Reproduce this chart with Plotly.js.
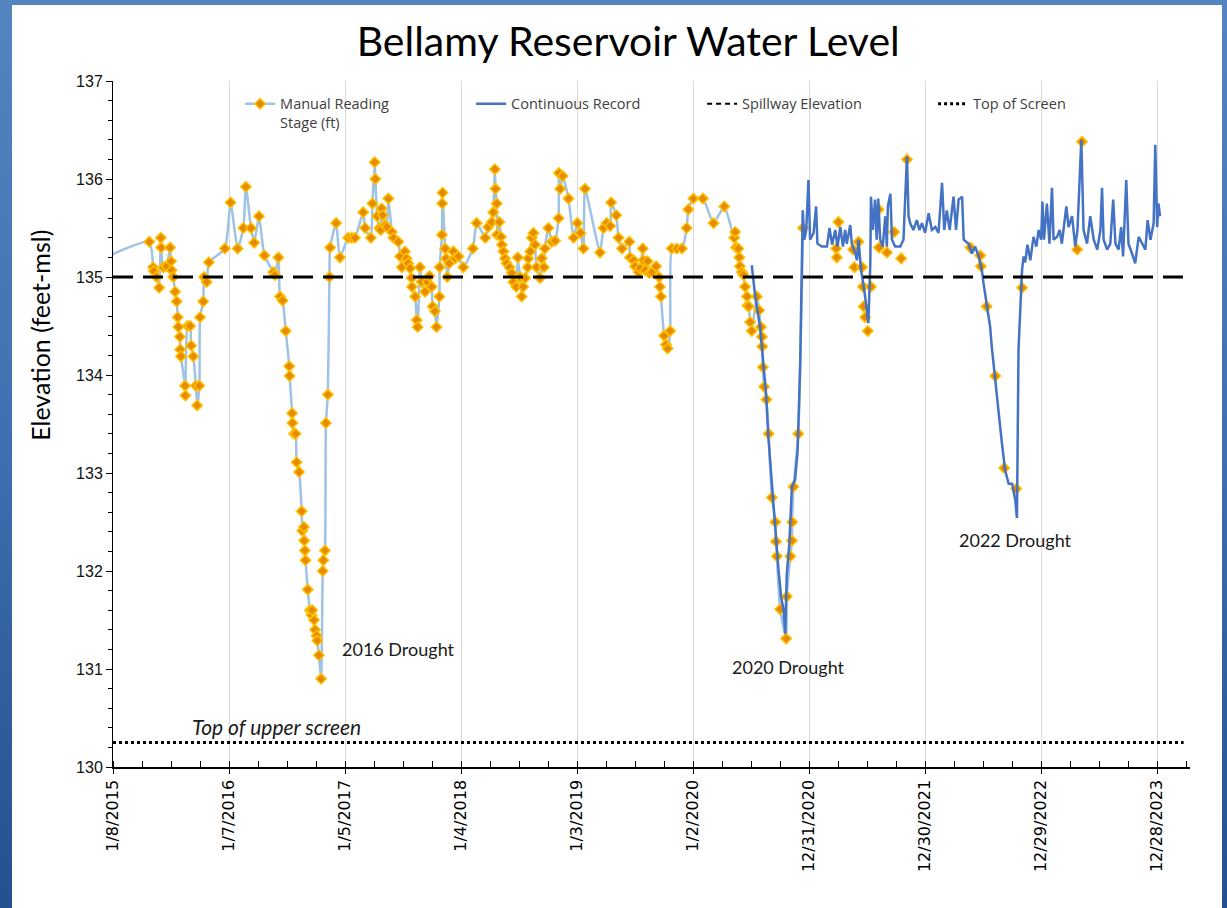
<!DOCTYPE html>
<html>
<head>
<meta charset="utf-8">
<script src="https://cdn.plot.ly/plotly-3.0.1.min.js"></script>
<style>
  html, body { margin:0; padding:0; width:1227px; height:908px; overflow:hidden;
    background: linear-gradient(to bottom, #5585c0 0%, #3f6fae 50%, #24508f 100%); }
  #sheet { position:absolute; left:12px; top:5px; width:1210px; height:903px; background:#fff; }
  #chart { position:absolute; left:0; top:0; width:1227px; height:908px; }
</style>
</head>
<body>
<div id="sheet"></div>
<div id="chart"></div>
<script>
// ---------------- DATA ----------------
const manualDates = [
 "2014-12-01",
 "2015-05-02","2015-05-14","2015-05-16","2015-05-25","2015-06-02","2015-06-07","2015-06-08","2015-06-15","2015-06-25","2015-07-06",
 "2015-07-09","2015-07-11","2015-07-16","2015-07-22","2015-07-27","2015-07-30","2015-08-01","2015-08-06","2015-08-07","2015-08-09",
 "2015-08-22","2015-08-23","2015-08-30","2015-09-07","2015-09-10","2015-09-17","2015-09-25","2015-09-29","2015-10-06","2015-10-08",
 "2015-10-18","2015-10-21","2015-10-29","2015-11-05","2015-12-25",
 "2016-01-12","2016-02-03","2016-02-21","2016-02-29","2016-03-16","2016-03-26","2016-04-10","2016-04-27","2016-05-25","2016-05-30",
 "2016-06-10","2016-06-15","2016-06-23","2016-07-03","2016-07-14","2016-07-15","2016-07-23","2016-07-24","2016-07-29","2016-08-03",
 "2016-08-06","2016-08-14","2016-08-22","2016-08-24","2016-08-29","2016-08-30","2016-09-01","2016-09-03","2016-09-10","2016-09-17",
 "2016-09-22","2016-09-24","2016-09-30","2016-10-03","2016-10-08","2016-10-10","2016-10-15","2016-10-22","2016-10-27","2016-10-29",
 "2016-11-03","2016-11-06","2016-11-12","2016-11-17","2016-11-19","2016-12-08","2016-12-20",
 "2017-01-15","2017-01-26","2017-02-05","2017-03-03","2017-03-09","2017-03-27","2017-04-01","2017-04-08","2017-04-10","2017-04-16",
 "2017-04-23","2017-04-27","2017-04-30","2017-05-03","2017-05-11","2017-05-16","2017-05-21","2017-06-01","2017-06-06","2017-06-21",
 "2017-06-27","2017-07-02","2017-07-12","2017-07-17","2017-07-22","2017-07-28","2017-08-02","2017-08-03","2017-08-13","2017-08-18",
 "2017-08-21","2017-08-28","2017-09-02","2017-09-13","2017-09-20","2017-09-27","2017-10-04","2017-10-07","2017-10-14","2017-10-19",
 "2017-10-28","2017-10-29","2017-11-05","2017-11-06","2017-11-07","2017-11-15","2017-11-18","2017-11-22","2017-11-28","2017-12-11",
 "2017-12-16","2017-12-27",
 "2018-01-11","2018-02-10","2018-02-22","2018-03-21","2018-03-30","2018-04-10","2018-04-15","2018-04-20","2018-04-22","2018-04-26",
 "2018-04-27","2018-05-04","2018-05-09","2018-05-12","2018-05-17","2018-05-22","2018-05-27","2018-06-05","2018-06-12","2018-06-17",
 "2018-06-26","2018-07-01","2018-07-08","2018-07-13","2018-07-18","2018-07-24","2018-08-01","2018-08-03","2018-08-09","2018-08-14",
 "2018-08-19","2018-08-24","2018-08-29","2018-09-09","2018-09-14","2018-09-21","2018-09-24","2018-10-05","2018-10-16","2018-10-26",
 "2018-11-06","2018-11-07","2018-11-11","2018-11-19","2018-12-07","2018-12-23",
 "2019-01-04","2019-01-14","2019-01-23","2019-01-28","2019-03-16","2019-03-27","2019-04-06","2019-04-17","2019-04-20","2019-05-06",
 "2019-05-13","2019-05-24","2019-06-16","2019-06-18","2019-06-29","2019-07-04","2019-07-15","2019-07-20","2019-07-28","2019-07-30",
 "2019-08-05","2019-08-12","2019-08-18","2019-08-26","2019-09-08","2019-09-17","2019-09-20","2019-09-23","2019-10-03","2019-10-09",
 "2019-10-14","2019-10-22","2019-10-27","2019-11-12","2019-11-28","2019-12-13","2019-12-18",
 "2020-01-03","2020-02-02","2020-03-06","2020-04-09","2020-05-10","2020-05-13","2020-05-16","2020-05-23","2020-05-26","2020-05-28",
 "2020-06-03","2020-06-08","2020-06-13","2020-06-19","2020-06-21","2020-06-24","2020-06-29","2020-07-04","2020-07-20","2020-07-27",
 "2020-08-02","2020-08-05","2020-08-06","2020-08-08","2020-08-12","2020-08-19","2020-08-26","2020-09-05","2020-09-16","2020-09-18",
 "2020-09-21","2020-10-01","2020-10-20","2020-10-22","2020-11-02","2020-11-07","2020-11-08","2020-11-12","2020-11-27","2020-12-12",
 "2021-03-26","2021-03-28","2021-04-02","2021-05-18","2021-05-22","2021-06-04","2021-06-15","2021-06-18","2021-06-20","2021-06-25",
 "2021-07-03","2021-07-13","2021-08-06","2021-08-07","2021-09-01","2021-09-24","2021-10-16","2021-11-03",
 "2022-05-21","2022-06-21","2022-06-23","2022-07-11","2022-08-07","2022-09-04","2022-10-12","2022-10-30",
 "2023-04-21","2023-05-06"
];
const manualStage = [
 135.18,
 135.36,135.10,135.06,135.00,134.89,135.40,135.30,135.10,135.11,135.30,
 135.16,135.07,135.00,134.85,134.75,134.59,134.49,134.39,134.26,134.19,
 133.89,133.79,134.50,134.50,134.30,134.19,133.89,133.69,133.89,134.59,
 134.75,135.00,134.95,135.15,135.29,
 135.76,135.29,135.50,135.92,135.50,135.35,135.62,135.22,135.05,135.02,
 135.20,134.80,134.76,134.45,134.09,133.99,133.61,133.51,133.40,133.40,
 133.11,133.01,132.61,132.41,132.45,132.31,132.21,132.11,131.81,131.60,
 131.55,131.60,131.50,131.40,131.34,131.29,131.14,130.90,132.00,132.11,
 132.21,133.51,133.80,135.00,135.30,135.55,135.20,
 135.40,135.40,135.40,135.66,135.50,135.40,135.75,136.17,136.00,135.62,
 135.50,135.48,135.70,135.63,135.53,135.51,135.80,135.46,135.40,135.36,
 135.21,135.10,135.26,135.19,135.14,135.09,134.99,134.90,134.80,134.56,
 134.49,135.10,134.95,134.85,134.95,135.01,134.90,134.70,134.65,134.49,
 134.80,135.10,135.43,135.75,135.86,135.29,135.19,135.00,135.14,135.26,
 135.19,135.21,
 135.10,135.29,135.55,135.40,135.51,135.56,135.66,136.10,135.90,135.75,
 135.43,135.56,135.41,135.33,135.26,135.19,135.14,135.10,135.04,134.95,
 134.90,135.20,135.00,134.80,134.90,134.99,135.10,135.19,135.26,135.40,
 135.45,135.33,135.10,134.99,135.19,135.10,135.29,135.50,135.36,135.37,
 135.60,136.06,135.90,136.03,135.80,135.40,
 135.55,135.45,135.29,135.90,135.25,135.50,135.55,135.52,135.76,135.63,
 135.40,135.29,135.36,135.20,135.17,135.11,135.05,135.09,135.29,135.17,
 135.07,135.16,135.04,135.05,135.11,135.00,134.90,134.80,134.40,134.31,
 134.27,134.45,135.29,135.29,135.29,135.50,135.69,
 135.80,135.80,135.55,135.72,135.40,135.46,135.30,135.29,135.20,135.11,
 135.05,135.02,134.90,134.80,134.71,134.70,134.54,134.45,134.80,134.66,
 134.49,134.39,134.29,134.08,133.88,133.75,133.40,132.75,132.50,132.30,
 132.15,131.61,131.31,131.74,132.15,132.31,132.50,132.86,133.40,135.50,
 135.29,135.20,135.56,135.28,135.10,135.36,135.10,134.90,134.70,134.59,
 134.45,134.90,135.69,135.30,135.25,135.46,135.19,136.20,
 135.30,135.22,135.11,134.70,133.99,133.05,132.84,134.89,
 135.28,136.38
];
// after this date the manual readings are shown as markers only
const manualLineEnd = "2020-12-31";

const continuousDates = [
 "2020-07-04","2020-07-09","2020-07-15","2020-07-30","2020-08-08","2020-08-18","2020-08-25","2020-09-05","2020-09-15","2020-09-26",
 "2020-10-04","2020-10-12","2020-10-17","2020-10-22","2020-10-30","2020-11-07","2020-11-17","2020-11-25","2020-12-03","2020-12-08",
 "2020-12-11","2020-12-16","2020-12-22","2020-12-29",
 "2021-01-03","2021-01-14","2021-01-22","2021-01-26","2021-02-09","2021-02-25","2021-03-05","2021-03-13","2021-03-23","2021-03-30",
 "2021-04-08","2021-04-16","2021-04-23","2021-04-28","2021-05-09","2021-05-14","2021-05-25","2021-05-30","2021-06-04","2021-06-12",
 "2021-06-22","2021-06-30","2021-07-05","2021-07-11","2021-07-13","2021-07-19","2021-07-26","2021-07-31","2021-08-05","2021-08-11",
 "2021-08-19","2021-08-27","2021-09-01","2021-09-04","2021-09-12","2021-09-17","2021-09-27","2021-10-13","2021-10-23","2021-11-03",
 "2021-11-08","2021-11-13","2021-11-23","2021-12-04","2021-12-12","2021-12-20","2021-12-30",
 "2022-01-10","2022-01-20","2022-01-31","2022-02-10","2022-02-21","2022-02-28","2022-03-08","2022-03-17","2022-03-29","2022-04-06",
 "2022-04-14","2022-04-25","2022-04-30","2022-05-15","2022-05-26","2022-06-05","2022-06-16","2022-06-26","2022-07-01","2022-07-09",
 "2022-07-17","2022-07-22","2022-07-27","2022-08-07","2022-08-17","2022-08-28","2022-09-07","2022-09-18","2022-09-29","2022-10-09",
 "2022-10-14","2022-10-19","2022-10-30","2022-11-04","2022-11-09","2022-11-16","2022-11-25","2022-12-05","2022-12-14","2022-12-21",
 "2022-12-29",
 "2023-01-02","2023-01-07","2023-01-16","2023-01-24","2023-02-01","2023-02-06","2023-02-17","2023-02-25","2023-03-04","2023-03-18",
 "2023-03-25","2023-04-05","2023-04-15","2023-04-22","2023-05-04","2023-05-11","2023-05-22","2023-06-01","2023-06-12","2023-06-23",
 "2023-07-03","2023-07-08","2023-07-13","2023-07-24","2023-08-03","2023-08-12","2023-08-19","2023-08-29","2023-09-06","2023-09-12",
 "2023-09-22","2023-09-29","2023-10-10","2023-10-20","2023-10-31","2023-11-11","2023-11-21","2023-11-28","2023-12-07","2023-12-17",
 "2023-12-22","2023-12-28","2024-01-01","2024-01-06"
];
const continuousStage = [
 135.12,134.98,134.80,134.49,134.15,133.81,133.37,132.90,132.42,132.01,
 131.74,131.60,131.36,131.97,132.28,132.86,132.93,133.23,134.12,135.29,
 135.68,135.38,135.48,135.99,
 135.38,135.45,135.72,135.34,135.31,135.31,135.50,135.33,135.48,135.31,
 135.51,135.31,135.48,135.34,135.53,135.34,135.24,135.17,135.38,135.07,
 134.87,134.66,134.53,135.14,135.82,135.48,135.79,135.38,135.80,135.38,
 135.31,135.62,135.31,135.72,135.85,135.38,135.31,135.31,135.38,136.23,
 135.62,135.55,135.48,135.58,135.48,135.55,135.45,
 135.65,135.48,135.51,135.45,135.96,135.48,135.68,135.48,135.82,135.48,
 135.79,135.82,135.38,135.34,135.24,135.31,135.21,135.07,134.94,134.77,
 134.56,134.49,134.29,133.92,133.64,133.30,133.03,132.89,132.89,132.72,
 132.54,134.26,135.07,135.21,135.15,135.33,135.17,135.41,135.31,135.48,
 135.38,
 135.77,135.38,135.75,135.34,135.91,135.38,135.41,135.48,135.34,135.72,
 135.51,135.62,135.31,135.48,136.40,135.48,135.34,135.62,135.38,135.28,
 135.48,135.91,135.38,135.28,135.34,135.79,135.34,135.28,135.51,135.21,
 135.99,135.34,135.24,135.14,135.41,135.34,135.28,135.58,135.38,135.55,
 136.35,135.51,135.75,135.62
];

const spillwayElevation = 135;
const topOfScreenElevation = 130.25;
const referenceLineSpan = ["2015-01-08", "2024-03-20"];

const tickDates  = ["2015-01-08","2016-01-07","2017-01-05","2018-01-04","2019-01-03","2020-01-02","2020-12-31","2021-12-30","2022-12-29","2023-12-28"];
const tickLabels = ["1/8/2015","1/7/2016","1/5/2017","1/4/2018","1/3/2019","1/2/2020","12/31/2020","12/30/2021","12/29/2022","12/28/2023"];
const xRange = ["2015-01-08", "2024-04-09"];
const yRange = [130, 137];

const droughtNotes = [
  {text: "2016 Drought", date: "2016-12-20", level: 131.2},
  {text: "2020 Drought", date: "2020-04-27", level: 131.02},
  {text: "2022 Drought", date: "2022-04-09", level: 132.32}
];
const screenNote = {text: "Top of upper screen", date: "2015-09-05", level: 130.41};

// ---------------- CHART ----------------
const DAY = 86400000;
const manualMarker = {symbol: 'diamond', size: 8, color: '#E68A00', line: {color: '#FFC000', width: 1.5}};
const lineStage = manualStage.map((v, i) => manualDates[i] <= manualLineEnd ? v : null);
const lateDates = manualDates.filter(d => d > manualLineEnd);
const lateStage = manualStage.filter((v, i) => manualDates[i] > manualLineEnd);

const traces = [
  {
    x: manualDates, y: lineStage, type: 'scatter', mode: 'lines+markers', connectgaps: false,
    name: 'Manual Reading<br>Stage (ft)', legendrank: 1,
    line: {color: '#9DC3E6', width: 2.5, shape: 'spline', smoothing: 0.5},
    marker: manualMarker
  },
  {
    x: lateDates, y: lateStage, type: 'scatter', mode: 'markers', showlegend: false,
    marker: manualMarker
  },
  {
    x: continuousDates, y: continuousStage, type: 'scatter', mode: 'lines',
    name: 'Continuous Record', legendrank: 2,
    line: {color: '#4472C4', width: 2.5}
  },
  {
    x: referenceLineSpan, y: referenceLineSpan.map(() => spillwayElevation), type: 'scatter', mode: 'lines',
    showlegend: false, line: {color: '#000000', width: 3, dash: '20px,10px'}
  },
  {
    x: referenceLineSpan, y: referenceLineSpan.map(() => topOfScreenElevation), type: 'scatter', mode: 'lines',
    showlegend: false, line: {color: '#000000', width: 3, dash: '3px,3px'}
  },
  // legend keys drawn in the reference's legend style
  {
    x: [null], y: [null], type: 'scatter', mode: 'lines', name: 'Spillway Elevation', legendrank: 3,
    line: {color: '#000000', width: 2, dash: '5px,4px'}
  },
  {
    x: [null], y: [null], type: 'scatter', mode: 'lines', name: 'Top of Screen', legendrank: 4,
    line: {color: '#000000', width: 3, dash: '3px,3px'}
  }
];

const noteFont = {family: 'Lato', size: 18, color: '#1a1a1a'};
const annotations = droughtNotes.map(n => ({
  x: n.date, y: n.level, xref: 'x', yref: 'y', text: n.text, showarrow: false,
  xanchor: 'left', yanchor: 'middle', font: noteFont
}));
annotations.push({
  x: screenNote.date, y: screenNote.level, xref: 'x', yref: 'y',
  text: '<i>' + screenNote.text + '</i>', showarrow: false,
  xanchor: 'left', yanchor: 'middle', font: {family: 'Lato', size: 21, color: '#1a1a1a'}
});
annotations.push({
  x: -0.0678, y: 0.63, xref: 'paper', yref: 'paper', text: 'Elevation (feet-msl)',
  textangle: -90, showarrow: false, xanchor: 'center', yanchor: 'middle',
  font: {family: 'Lato', size: 25, color: '#000'}
});

const layout = {
  width: 1227, height: 908,
  paper_bgcolor: 'rgba(0,0,0,0)', plot_bgcolor: 'rgba(0,0,0,0)',
  margin: {l: 113, r: 37, t: 81, b: 141, pad: 0},
  title: {text: 'Bellamy Reservoir Water Level', xref: 'container', x: 0.512, xanchor: 'center',
          yref: 'container', y: 0.954, yanchor: 'middle',
          font: {family: 'Lato', size: 41, color: '#000'}},
  showlegend: true,
  legend: {orientation: 'h', x: 0.118, xanchor: 'left', y: 0.99, yanchor: 'top',
           entrywidth: 186, entrywidthmode: 'pixels', valign: 'top',
           bgcolor: 'rgba(0,0,0,0)', font: {family: 'Open Sans', size: 14.5, color: '#404040'}},
  xaxis: {
    type: 'date', range: xRange, tickmode: 'array', tickvals: tickDates, ticktext: tickLabels,
    tickangle: -90, tickfont: {family: 'DejaVu Sans', size: 16, color: '#000'},
    ticks: 'outside', ticklen: 5, tickcolor: '#000', tickwidth: 1,
    showline: true, linecolor: '#000', linewidth: 1.5,
    showgrid: true, gridcolor: '#d9d9d9', gridwidth: 1, zeroline: false,
    minor: {tickmode: 'linear', tick0: '2015-01-08', dtick: 91 * DAY, ticks: 'inside', ticklen: 6, tickcolor: '#000', showgrid: false},
    fixedrange: true
  },
  xaxis2: {
    type: 'date', range: xRange, overlaying: 'x', anchor: 'y', side: 'bottom',
    tickmode: 'array', tickvals: tickDates, ticks: 'inside', ticklen: 7, tickcolor: '#000',
    showticklabels: false, showgrid: false, showline: false, zeroline: false
  },
  yaxis: {
    range: yRange, dtick: 1, tick0: 130,
    tickfont: {family: 'Liberation Sans', size: 16, color: '#111'},
    ticks: 'outside', ticklen: 6, tickcolor: '#000',
    showline: true, linecolor: '#000', linewidth: 1, showgrid: false, zeroline: false,
    minor: {dtick: 0.2, ticks: 'outside', ticklen: 4, tickcolor: '#000', showgrid: false}
  },
  yaxis2: {
    range: yRange, dtick: 1, overlaying: 'y', anchor: 'x', side: 'left',
    ticks: 'inside', ticklen: 9, tickcolor: '#000',
    showticklabels: false, showgrid: false, showline: false, zeroline: false
  },
  annotations: annotations
};

Plotly.newPlot('chart', traces, layout, {displayModeBar: false, staticPlot: true});
</script>
</body>
</html>
